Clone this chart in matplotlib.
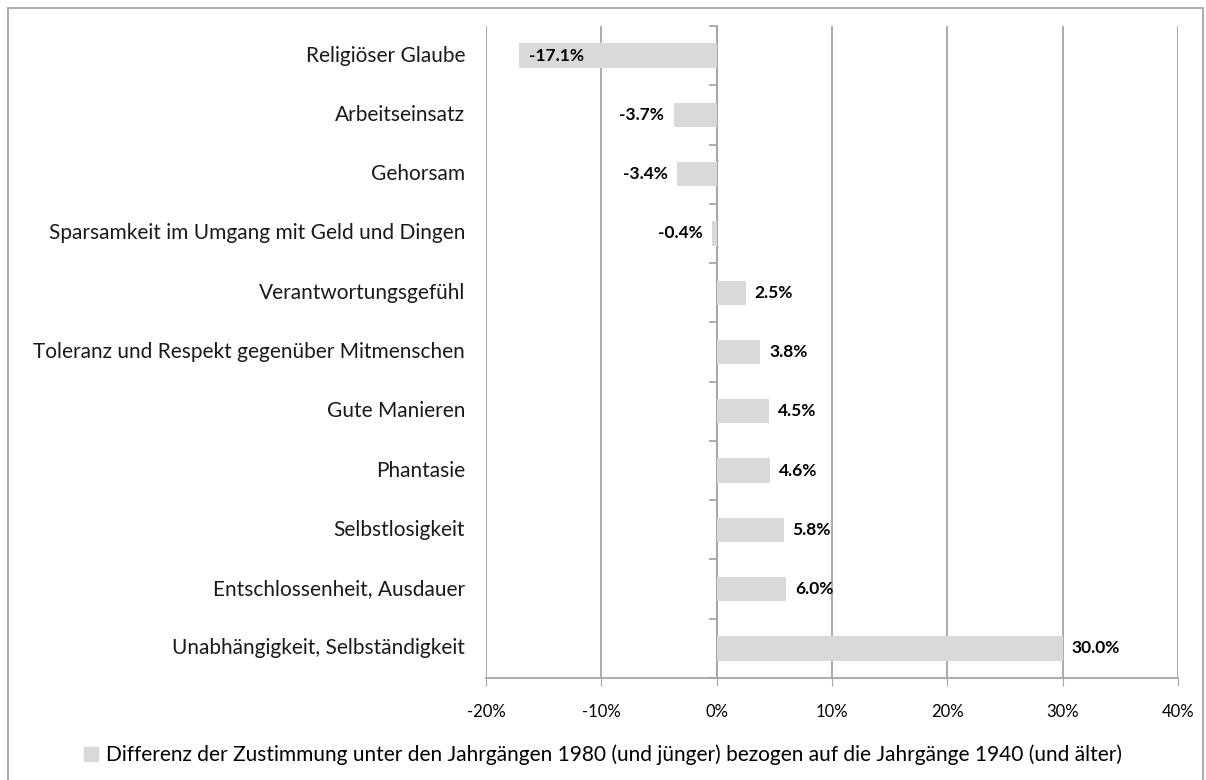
import matplotlib.pyplot as plt
from matplotlib.patches import Rectangle, Patch

# Werte
kategorien = ["Religiöser Glaube", "Arbeitseinsatz", "Gehorsam",
              "Sparsamkeit im Umgang mit Geld und Dingen", "Verantwortungsgefühl",
              "Toleranz und Respekt gegenüber Mitmenschen", "Gute Manieren",
              "Phantasie", "Selbstlosigkeit", "Entschlossenheit, Ausdauer",
              "Unabhängigkeit, Selbständigkeit"]
differenz = [-17.1, -3.7, -3.4, -0.4, 2.5, 3.8, 4.5, 4.6, 5.8, 6.0, 30.0]
xticks = [-20, -10, 0, 10, 20, 30, 40]
legende = "Differenz der Zustimmung unter den Jahrgängen 1980 (und jünger) bezogen auf die Jahrgänge 1940 (und älter)"

plt.rcParams['font.family'] = ['Lato', 'DejaVu Sans']
grau = '#d9d9d9'
linie = '#a6a6a6'

fig = plt.figure(figsize=(12.06, 7.8), dpi=100)
ax = fig.add_axes([486/1206, 1-678/780, (1178-486)/1206, (678-26)/780])

y = list(range(len(kategorien)))
ax.barh(y, differenz, height=0.41, color=grau, zorder=2)
ax.set_ylim(len(kategorien)-0.5, -0.5)
ax.set_xlim(-20, 40)

for yi, v in zip(y, differenz):
    txt = f"{v:.1f}%"
    if v < -10:
        ax.annotate(txt, (v, yi), xytext=(7, 0), textcoords='offset points',
                    ha='left', va='center', fontweight='bold', fontsize=12.5, zorder=3)
    elif v < 0:
        ax.annotate(txt, (v, yi), xytext=(-7, 0), textcoords='offset points',
                    ha='right', va='center', fontweight='bold', fontsize=12.5, zorder=3)
    else:
        ax.annotate(txt, (v, yi), xytext=(6.5, 0), textcoords='offset points',
                    ha='left', va='center', fontweight='bold', fontsize=12.5, zorder=3)

ax.set_xticks(xticks)
ax.set_xticklabels([f"{t}%" for t in xticks], fontsize=12)
ax.grid(axis='x', color=linie, linewidth=1.3, zorder=0)
ax.tick_params(axis='x', direction='out', length=6, color=linie, pad=13)

# y-Achse bei 0
ax.set_yticks([])
for sp in ['top', 'right', 'left']:
    ax.spines[sp].set_visible(False)
ax.spines['bottom'].set_color(linie)
ax.spines['bottom'].set_linewidth(1.3)
ax.axvline(0, color=linie, linewidth=1.3, zorder=1)
for b in [i - 0.5 for i in range(len(kategorien) + 1)]:
    ax.plot([-0.6, 0], [b, b], color=linie, linewidth=1.3, clip_on=False, zorder=1)

for yi, k in zip(y, kategorien):
    ax.annotate(k, (-20, yi), xytext=(-15, 0), textcoords='offset points',
                ha='right', va='center', fontsize=15, color='#1a1a1a',
                annotation_clip=False)

fig.legend(handles=[Patch(color=grau, label=legende)], loc='center',
           bbox_to_anchor=(0.5, 1-755/780), frameon=False, fontsize=15,
           handlelength=0.7, handleheight=0.7, handletextpad=0.4)

fig.patches.append(Rectangle((8/1206, -0.05), (1203-8)/1206, 1.05-8/780,
                             transform=fig.transFigure, fill=False,
                             edgecolor=linie, linewidth=1.3))

fig.savefig('out.png', dpi=100)
